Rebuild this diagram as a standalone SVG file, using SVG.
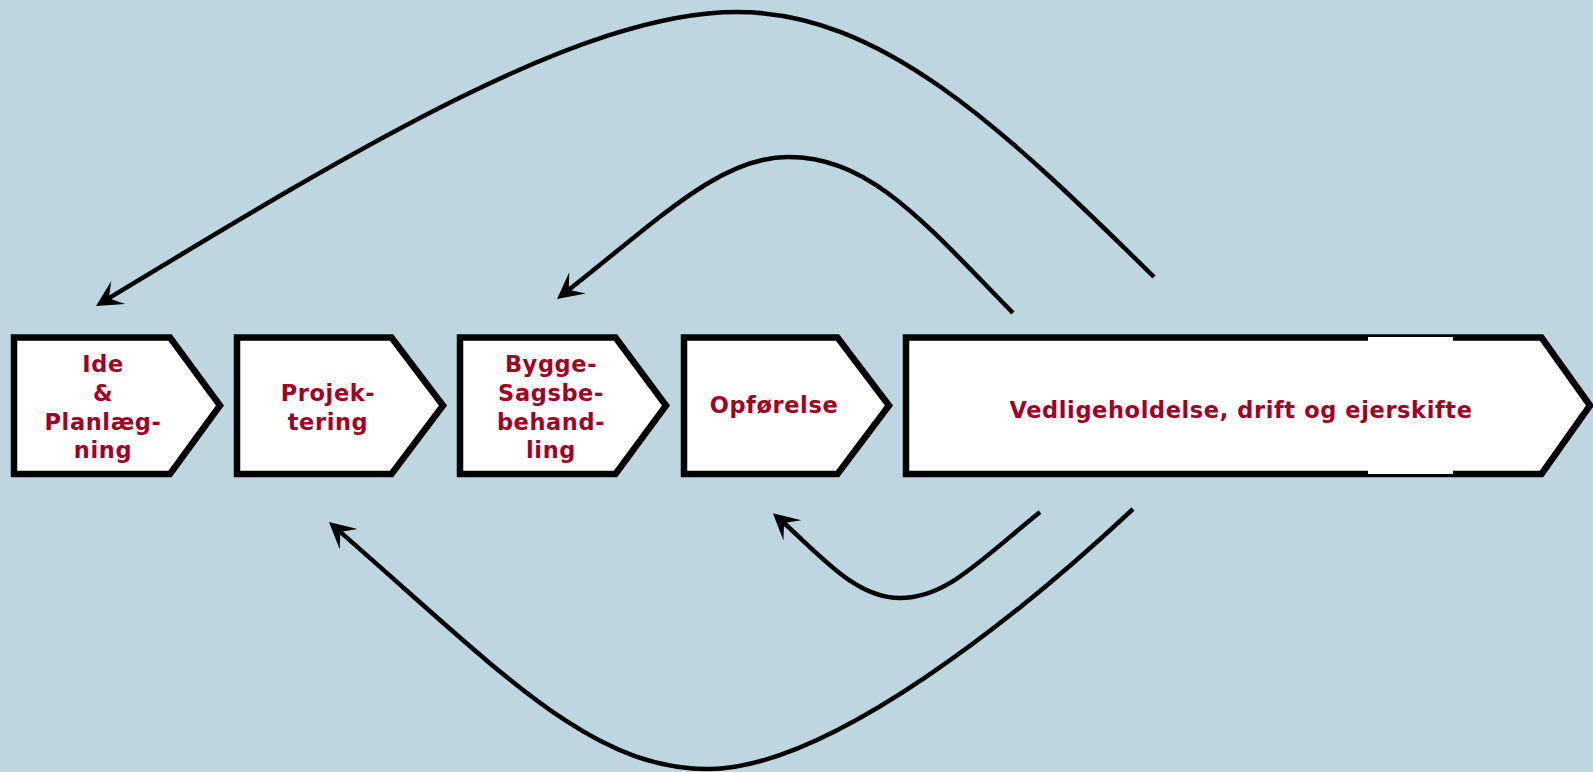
<svg xmlns="http://www.w3.org/2000/svg" width="1593" height="772" viewBox="0 0 1593 772">
<style>
.bg{fill:#BDD6E0}
.node polygon{fill:#FFFFFF;stroke:#000000;stroke-width:6.5;stroke-linejoin:miter}
.lbl{font-family:"DejaVu Sans","Verdana",sans-serif;font-weight:bold;font-size:22.5px;letter-spacing:0.6px;fill:#A50021;text-anchor:middle}
.conn path{fill:none;stroke:#000000;stroke-width:4.5}
</style>
<defs>
<marker id="ah" markerUnits="userSpaceOnUse" viewBox="-20 -20 40 40" markerWidth="40" markerHeight="40" refX="0" refY="0" orient="auto" overflow="visible">
<path d="M10,0 L-16,-13.5 L-5,0 L-16,13.5 Z" fill="#000000"/>
</marker>
</defs>
<rect class="bg" x="0" y="0" width="1593" height="772"/>
<g id="node-ide" class="node">
<polygon points="14,337.5 170,337.5 220,405.5 170,474 14,474"/>
<text class="lbl" x="103" y="372">Ide</text>
<text class="lbl" x="103" y="401">&amp;</text>
<text class="lbl" x="103" y="430">Planlæg-</text>
<text class="lbl" x="103" y="458">ning</text>
</g>
<g id="node-projektering" class="node">
<polygon points="237,337.5 391.5,337.5 443,405.5 391.5,474 237,474"/>
<text class="lbl" x="328" y="401">Projek-</text>
<text class="lbl" x="328" y="430">tering</text>
</g>
<g id="node-byggesag" class="node">
<polygon points="460,337.5 615.5,337.5 666,405.5 615.5,474 460,474"/>
<text class="lbl" x="551" y="372">Bygge-</text>
<text class="lbl" x="551" y="401">Sagsbe-</text>
<text class="lbl" x="551" y="430">behand-</text>
<text class="lbl" x="551" y="458">ling</text>
</g>
<g id="node-opfoerelse" class="node">
<polygon points="684,337.5 837.5,337.5 889,405.5 837.5,474 684,474"/>
<text class="lbl" x="774" y="413">Opførelse</text>
</g>
<g id="node-vedligehold" class="node">
<polygon points="906,337.5 1541.5,337.5 1590,405.5 1541.5,474 906,474"/>
<rect x="1368" y="337" width="85" height="137" fill="#FFFFFF"/>
<text class="lbl" x="1241" y="418">Vedligeholdelse, drift og ejerskifte</text>
</g>
<g id="connectors" class="conn">
<path d="M1154,277 C1000,125 880,12 737,12 C580,12 352.8,150.6 104.6,300.8" marker-end="url(#ah)"/>
<path d="M1013,313 C923,221 870,157 788,157 C720,157 659.5,219 564.9,292.8" marker-end="url(#ah)"/>
<path d="M1040,512 C975,565 945,598 900,598 C855,598 820,555 780.4,519.8" marker-end="url(#ah)"/>
<path d="M1133,509 C1023,612 830,769 708,769 C590,769 502.2,672.9 336.5,528.6" marker-end="url(#ah)"/>
</g>
</svg>
